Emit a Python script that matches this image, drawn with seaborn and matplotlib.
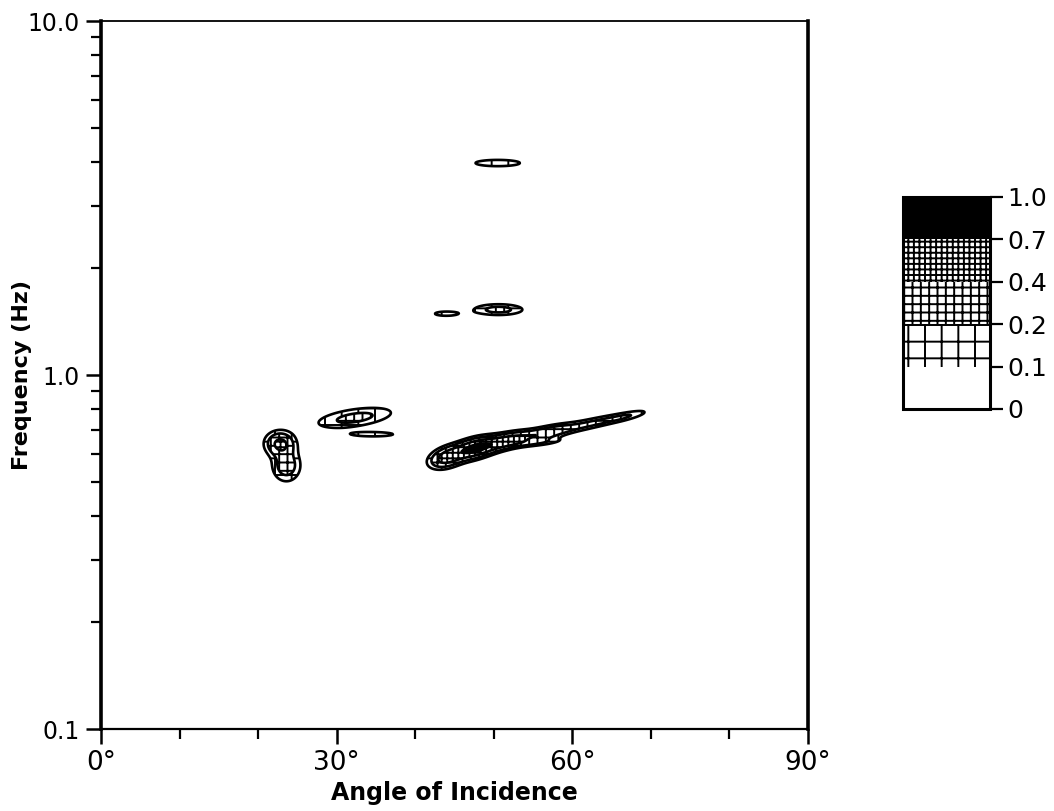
import numpy as np
import matplotlib
matplotlib.use("Agg")
import matplotlib.pyplot as plt
import seaborn as sns
from matplotlib.ticker import FixedLocator, NullFormatter

# contour levels and hatch styles of the legend bar
levels = [0.0, 0.1, 0.2, 0.4, 0.7, 1.0]
level_labels = ["0", "0.1", "0.2", "0.4", "0.7", "1.0"]
hatches = [None, "+", "++", "+++", None]
fills = ["white", "white", "white", "white", "black"]

# energy peaks: angle (deg), frequency (Hz),
# spread along angle (deg), spread in log10 f (decades), tilt (dec/deg), peak
peak_angle = [22.8, 23.6, 32.3, 34.7, 44.0, 47.5, 51.5, 56.5, 62.5, 67.0, 55.5, 43.9, 50.6, 50.5]
peak_freq = [0.64, 0.555, 0.757, 0.68, 0.585, 0.62, 0.65, 0.685, 0.73, 0.765, 0.645, 1.49, 1.53, 3.97]
peak_sig_a = [1.2, 1.2, 3.4, 3.4, 1.4, 1.8, 2.0, 2.4, 2.8, 2.0, 2.4, 1.9, 2.2, 2.4]
peak_sig_f = [0.022, 0.030, 0.018, 0.008, 0.018, 0.017, 0.014, 0.012, 0.010, 0.008, 0.007, 0.008, 0.011, 0.0075]
peak_tilt = [0.0, 0.0, 0.003, 0.0, 0.005, 0.005, 0.005, 0.005, 0.005, 0.005, 0.002, 0.0, 0.0, 0.0]
peak_amp = [0.45, 0.3, 0.25, 0.13, 0.5, 0.75, 0.5, 0.35, 0.22, 0.16, 0.18, 0.13, 0.26, 0.2]

x_ticks = [0, 30, 60, 90]
x_tick_labels = ["0°", "30°", "60°", "90°"]
y_ticks = [0.1, 1.0, 10.0]
y_tick_labels = ["0.1", "1.0", "10.0"]

sns.set_theme(style="ticks")
plt.rcParams["font.family"] = ["DejaVu Sans"]
plt.rcParams.update({
    "hatch.color": "black",
    "hatch.linewidth": 1.4,
    "text.color": "black",
    "axes.labelcolor": "black",
    "xtick.color": "black",
    "ytick.color": "black",
})

ang = np.linspace(0, 90, 901)
logf = np.linspace(-1, 1, 1001)
A, L = np.meshgrid(ang, logf)
Z = np.zeros_like(A)
for a0, f0, sa, sf, t, p in zip(peak_angle, peak_freq, peak_sig_a,
                                peak_sig_f, peak_tilt, peak_amp):
    dl = L - (np.log10(f0) + t * (A - a0))
    Z += p * np.exp(-0.5 * (((A - a0) / sa) ** 2 + (dl / sf) ** 2))
Z = np.clip(Z, 0, 0.999)

fig = plt.figure(figsize=(10.54, 8.11), dpi=100)
ax = fig.add_axes([0.0958, 0.1011, 0.6708, 0.8730])
cax = fig.add_axes([0.8567, 0.4957, 0.0825, 0.2614])

F = 10 ** L
cf = ax.contourf(A, F, Z, levels=levels, colors=fills, hatches=hatches)
cf.set_edgecolor("black")
cf.set_linewidth(0)
ax.contour(A, F, Z, levels=levels[1:-1], colors="black", linewidths=1.9)

ax.set_yscale("log")
ax.set_xlim(0, 90)
ax.set_ylim(0.1, 10)
ax.set_xticks(x_ticks)
ax.set_xticklabels(x_tick_labels, fontsize=19)
ax.xaxis.set_minor_locator(FixedLocator([10, 20, 40, 50, 70, 80]))
ax.set_yticks(y_ticks)
ax.set_yticklabels(y_tick_labels, fontsize=17)
ax.yaxis.set_minor_formatter(NullFormatter())
ax.tick_params(which="major", direction="out", length=11, width=1.8, pad=4)
ax.tick_params(which="minor", direction="out", length=7, width=1.6)
ax.set_xlabel("Angle of Incidence", fontsize=17, fontweight="bold", labelpad=4)
ax.set_ylabel("Frequency (Hz)", fontsize=16, fontweight="bold")
ax.yaxis.set_label_coords(-0.097, 0.5)
for side, lw in [("left", 2.6), ("right", 2.6), ("bottom", 1.6), ("top", 1.3)]:
    ax.spines[side].set_visible(True)
    ax.spines[side].set_linewidth(lw)
    ax.spines[side].set_color("black")

cb = fig.colorbar(cf, cax=cax, ticks=levels)
cb.ax.set_yticklabels(level_labels, fontsize=18)
cb.ax.tick_params(direction="out", length=9, width=1.6)
cb.outline.set_linewidth(2.2)
cb.outline.set_edgecolor("black")
for coll in cb.ax.collections:
    coll.set_edgecolor("black")
    coll.set_linewidth(0)
for p in cb.ax.patches:
    p.set_edgecolor("black")
    p.set_linewidth(0)

fig.savefig("out.png", dpi=100)
